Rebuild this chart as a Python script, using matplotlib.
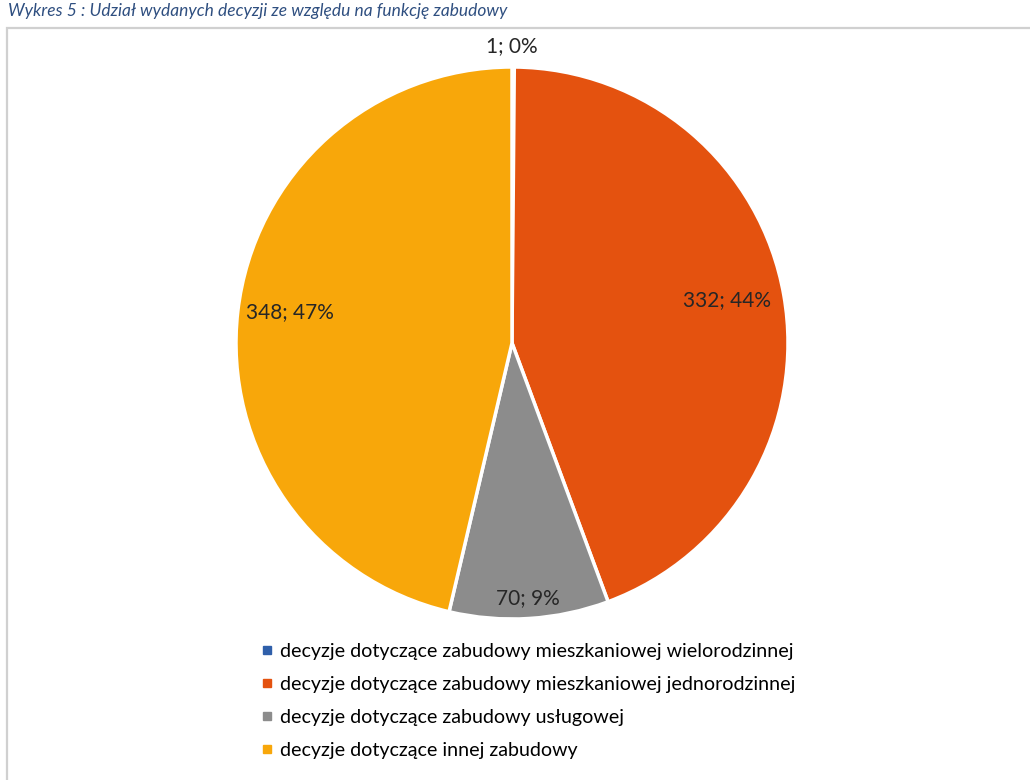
#!/usr/bin/env python3
"""
Pie chart: share of issued decisions by building function.
"""

import matplotlib
matplotlib.use("Agg")
import matplotlib.pyplot as plt
from matplotlib.lines import Line2D
from matplotlib.patches import Rectangle
import numpy as np

categories = [
    "decyzje dotyczące zabudowy mieszkaniowej wielorodzinnej",
    "decyzje dotyczące zabudowy mieszkaniowej jednorodzinnej",
    "decyzje dotyczące zabudowy usługowej",
    "decyzje dotyczące innej zabudowy",
]
counts = [1, 332, 70, 348]
percents = [0, 44, 9, 47]
colors = ["#2F5FAA", "#E4520F", "#8C8C8C", "#F8A70A"]
caption = "Wykres 5 : Udział wydanych decyzji ze względu na funkcję zabudowy"


def main():
    plt.rcParams["font.family"] = ["Lato", "DejaVu Sans"]
    fig = plt.figure(figsize=(10.3, 7.8), dpi=100)

    # chart frame (light gray) and the caption above it
    fig.patches.append(Rectangle((7 / 1030, -0.01), 1.02, 1 - 28 / 780 + 0.01,
                                 transform=fig.transFigure, fill=False,
                                 edgecolor="#D0D0D0", linewidth=1.6))
    fig.text(8 / 1030, 1 - 3 / 780, caption, fontsize=12.5, style="italic",
             color="#2F4F80", va="top", ha="left")

    ax = fig.add_axes([236 / 1030, (780 - 343 - 276) / 780, 552 / 1030, 552 / 780])
    wedges, _ = ax.pie(counts, colors=colors, startangle=90, counterclock=False,
                       radius=1.0,
                       wedgeprops=dict(edgecolor="white", linewidth=2.5))
    ax.set_xlim(-1, 1)
    ax.set_ylim(-1, 1)
    ax.set_aspect("equal")
    ax.axis("off")

    dists = [1.075, 0.79, 0.925, 0.81]
    lifts = [0.0, 0.02, 0.0, 0.02]
    for w, n, p, d, dy in zip(wedges, counts, percents, dists, lifts):
        mid = np.deg2rad((w.theta1 + w.theta2) / 2)
        x, y = d * np.cos(mid), d * np.sin(mid) + dy
        if n == counts[0]:
            x = 0.0
        ax.text(x, y, f"{n}; {p}%", ha="center", va="center",
                fontsize=15, color="#262626", clip_on=False)

    handles = [Line2D([0], [0], marker="s", linestyle="none", markersize=5.5,
                      markerfacecolor=c, markeredgecolor=c) for c in colors]
    fig.legend(handles, categories, loc="upper left",
               bbox_to_anchor=(261 / 1030, 1 - 643 / 780), frameon=False,
               fontsize=14.1, handlelength=0.65, handletextpad=0.3,
               labelspacing=0.82, borderaxespad=0, borderpad=0)

    fig.savefig("out.png", dpi=100, facecolor="white")


if __name__ == "__main__":
    main()
